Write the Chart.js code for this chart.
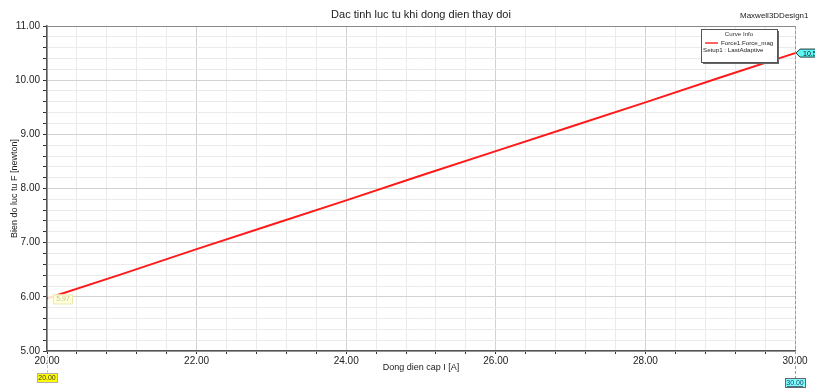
<!DOCTYPE html>
<html>
<head>
<meta charset="utf-8">
<script src="https://cdn.jsdelivr.net/npm/chart.js@4.4.1/dist/chart.umd.min.js"></script>
<style>
  html, body { margin: 0; padding: 0; background: #ffffff; }
  canvas { display: block; }
</style>
</head>
<body>
<canvas id="c" width="815" height="391"></canvas>
<script>
// Dong dien cap I [A]
const currents = [20, 21, 22, 23, 24, 25, 26, 27, 28, 29, 30];
// Bien do luc tu F [newton]
const forces = [5.97, 6.42, 6.88, 7.33, 7.78, 8.24, 8.69, 9.14, 9.59, 10.05, 10.50];

const chartTitle = 'Dac tinh luc tu khi dong dien thay doi';
const designName = 'Maxwell3DDesign1';
const xTitle = 'Dong dien cap I [A]';
const yTitle = 'Bien do luc tu F [newton]';
const curveName = 'Force1.Force_mag';
const setupName = 'Setup1 : LastAdaptive';

const FONT = '"Liberation Sans", Arial, sans-serif';

function isMajor(v, step) {
  const r = v / step;
  return Math.abs(r - Math.round(r)) < 1e-6;
}

const decorations = {
  id: 'decorations',
  afterDraw(chart) {
    const ctx = chart.ctx;
    const xs = chart.scales.x, ys = chart.scales.y;
    const area = chart.chartArea;
    const n = currents.length;
    const x0 = xs.getPixelForValue(currents[0]);
    const x1 = xs.getPixelForValue(currents[n - 1]);
    const yStart = ys.getPixelForValue(forces[0]);
    const yEnd = ys.getPixelForValue(forces[n - 1]);

    ctx.save();
    // titles
    ctx.fillStyle = '#222';
    ctx.textBaseline = 'middle';
    ctx.textAlign = 'center';
    ctx.font = '11px ' + FONT;
    ctx.fillText(chartTitle, 421, 15);
    ctx.font = '8px ' + FONT;
    ctx.textAlign = 'left';
    ctx.fillText(designName, 740, 16);
    ctx.textAlign = 'center';
    ctx.font = '9px ' + FONT;
    ctx.fillText(xTitle, (area.left + area.right) / 2, 368);
    ctx.save();
    ctx.translate(15, (area.top + area.bottom) / 2);
    ctx.rotate(-Math.PI / 2);
    ctx.fillText(yTitle, 0, 0);
    ctx.restore();

    // dashed marker lines
    ctx.strokeStyle = '#9a9a9a';
    ctx.lineWidth = 1;
    ctx.setLineDash([3, 2]);
    ctx.beginPath();
    ctx.moveTo(Math.round(x1) + 0.5, area.top);
    ctx.lineTo(Math.round(x1) + 0.5, 378);
    ctx.stroke();
    ctx.strokeStyle = '#c8c8c8';
    ctx.beginPath();
    ctx.moveTo(Math.round(x0) + 0.5, area.bottom + 4);
    ctx.lineTo(Math.round(x0) + 0.5, 373);
    ctx.stroke();
    ctx.setLineDash([]);

    // x markers
    ctx.font = '7px ' + FONT;
    ctx.fillStyle = '#ffff00';
    ctx.fillRect(x0 - 10, 373, 20, 9);
    ctx.strokeStyle = '#b0b0b0';
    ctx.strokeRect(x0 - 10 + 0.5, 373.5, 20, 9);
    ctx.fillStyle = '#333';
    ctx.fillText(currents[0].toFixed(2), x0, 378);

    ctx.fillStyle = '#7fffff';
    ctx.fillRect(x1 - 10, 378, 20, 9);
    ctx.strokeStyle = '#666';
    ctx.strokeRect(x1 - 10 + 0.5, 378.5, 20, 9);
    ctx.fillStyle = '#1a3a5a';
    ctx.fillText(currents[n - 1].toFixed(2), x1, 383);
    ctx.fillRect(x1 - 8, 386, 16, 0.7);

    // value marker at start (pale, covering the curve start)
    ctx.fillStyle = 'rgba(255,255,240,0.85)';
    ctx.fillRect(x0 + 1, yStart - 4, 5, 8);
    ctx.fillStyle = '#ffffd8';
    ctx.fillRect(x0 + 6, yStart - 4, 19, 9);
    ctx.strokeStyle = '#ece9b0';
    ctx.strokeRect(x0 + 6.5, yStart - 3.5, 19, 9);
    ctx.fillStyle = '#c8c8a0';
    ctx.fillText(forces[0].toFixed(2), x0 + 16, yStart + 1);

    // value marker at end
    ctx.beginPath();
    ctx.moveTo(x1 + 1, yEnd);
    ctx.lineTo(x1 + 5, yEnd - 4);
    ctx.lineTo(x1 + 30, yEnd - 4);
    ctx.lineTo(x1 + 30, yEnd + 4);
    ctx.lineTo(x1 + 5, yEnd + 4);
    ctx.closePath();
    ctx.fillStyle = '#5ff5f5';
    ctx.fill();
    ctx.strokeStyle = '#1a3a3a';
    ctx.stroke();
    ctx.fillStyle = '#111';
    ctx.textAlign = 'left';
    ctx.fillText(forces[n - 1].toFixed(2), x1 + 8, yEnd + 0.5);

    // curve info box
    const bx = 701, by = 29, bw = 76, bh = 33;
    ctx.fillStyle = '#666';
    ctx.fillRect(bx + 2, by + 2, bw, bh);
    ctx.fillStyle = '#ffffff';
    ctx.fillRect(bx, by, bw, bh);
    ctx.strokeStyle = '#555';
    ctx.strokeRect(bx + 0.5, by + 0.5, bw, bh);
    ctx.fillStyle = '#333';
    ctx.textAlign = 'center';
    ctx.font = '6.2px ' + FONT;
    ctx.fillText('Curve Info', bx + bw / 2, by + 5);
    ctx.strokeStyle = '#ff3030';
    ctx.lineWidth = 1.5;
    ctx.beginPath();
    ctx.moveTo(bx + 4, by + 14);
    ctx.lineTo(bx + 17, by + 14);
    ctx.stroke();
    ctx.textAlign = 'left';
    ctx.fillStyle = '#222';
    ctx.fillText(curveName, bx + 20, by + 14);
    ctx.fillText(setupName, bx + 2, by + 21);
    ctx.restore();
  }
};

new Chart(document.getElementById('c'), {
  type: 'line',
  data: {
    datasets: [{
      label: curveName,
      data: currents.map((x, i) => ({ x: x, y: forces[i] })),
      borderColor: '#ff1a1a',
      borderWidth: 2,
      pointRadius: 0,
      tension: 0,
      clip: false
    }]
  },
  options: {
    responsive: false,
    animation: false,
    events: [],
    layout: { padding: { top: 26, right: 20, bottom: 0, left: 0 } },
    plugins: {
      legend: { display: false },
      title: { display: false },
      tooltip: { enabled: false }
    },
    scales: {
      x: {
        type: 'linear',
        min: 20,
        max: 30,
        afterFit(scale) { scale.height = 40; },
        afterBuildTicks(scale) {
          const t = [];
          for (let i = 0; i <= 25; i++) t.push({ value: 20 + i * 0.4 });
          scale.ticks = t;
        },
        ticks: {
          autoSkip: false,
          maxRotation: 0,
          padding: 1,
          color: '#222',
          font: { family: FONT, size: 10 },
          callback: (v) => isMajor(v, 2) ? Number(v).toFixed(2) : ''
        },
        grid: {
          color: (c) => isMajor(c.tick.value, 2) ? '#d2d2d2' : '#ebebeb',
          tickColor: '#333',
          tickLength: 3,
          lineWidth: 1
        },
        border: { color: '#555', width: 1.5 }
      },
      y: {
        type: 'linear',
        min: 5,
        max: 11,
        afterFit(scale) { scale.width = 47; },
        afterBuildTicks(scale) {
          const t = [];
          for (let i = 0; i <= 30; i++) t.push({ value: 5 + i * 0.2 });
          scale.ticks = t;
        },
        ticks: {
          autoSkip: false,
          padding: 3,
          color: '#222',
          font: { family: FONT, size: 10 },
          callback: (v) => isMajor(v, 1) ? Number(v).toFixed(2) : ''
        },
        grid: {
          color: (c) => {
            if (Math.abs(c.tick.value - 11) < 1e-6) return '#8a8a8a';
            return isMajor(c.tick.value, 1) ? '#d2d2d2' : '#ebebeb';
          },
          tickColor: '#333',
          tickLength: 4,
          lineWidth: 1
        },
        border: { color: '#555', width: 1.5 }
      }
    }
  },
  plugins: [decorations]
});
</script>
</body>
</html>
